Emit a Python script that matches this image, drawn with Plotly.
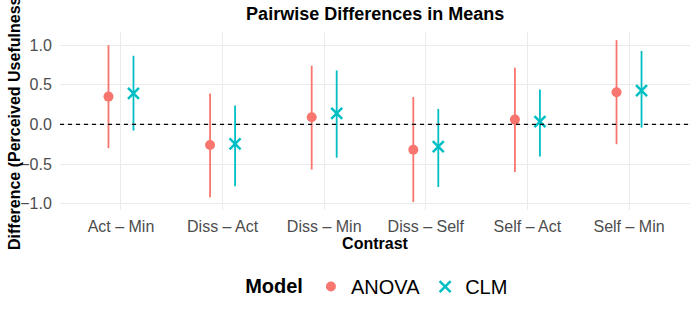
import plotly.graph_objects as go

contrasts = ["Act – Min", "Diss – Act", "Diss – Min", "Diss – Self", "Self – Act", "Self – Min"]
anova_est = [0.35, -0.26, 0.09, -0.32, 0.06, 0.405]
anova_lo = [-0.30, -0.92, -0.57, -0.98, -0.60, -0.25]
anova_hi = [1.00, 0.39, 0.74, 0.345, 0.715, 1.063]
clm_est = [0.39, -0.245, 0.14, -0.28, 0.035, 0.425]
clm_lo = [-0.078, -0.78, -0.42, -0.79, -0.405, -0.04]
clm_hi = [0.865, 0.237, 0.68, 0.195, 0.44, 0.925]
y_ticks = [-1.0, -0.5, 0.0, 0.5, 1.0]
y_tick_labels = ["−1.0", "−0.5", "0.0", "0.5", "1.0"]

dodge = 0.123
pos = list(range(1, len(contrasts) + 1))
RED = "#F8766D"
TEAL = "#00BFC4"
FONT = "Liberation Sans, Arial, sans-serif"

fig = go.Figure()

def add_series(name, est, lo, hi, color, symbol, size, shift, lw):
    xs = [p + shift for p in pos]
    fig.add_trace(go.Scatter(
        x=xs, y=est, mode="markers", name=name,
        marker=dict(color=color, symbol=symbol, size=size,
                    line=dict(color=color, width=lw)),
        error_y=dict(type="data", symmetric=False,
                     array=[h - e for h, e in zip(hi, est)],
                     arrayminus=[e - l for e, l in zip(est, lo)],
                     color=color, thickness=1.8, width=0),
    ))

add_series("ANOVA", anova_est, anova_lo, anova_hi, RED, "circle", 10, -dodge, 0)
add_series("CLM", clm_est, clm_lo, clm_hi, TEAL, "x-thin", 11, dodge, 2.5)

fig.add_hline(y=0, line=dict(color="black", width=1.3, dash="4px,4px"))

fig.add_annotation(
    text="<b>Difference (Perceived Usefulness)</b>", textangle=-90,
    xref="paper", yref="paper", x=-0.073, y=0.5, xanchor="center", yanchor="middle",
    showarrow=False, font=dict(size=16, color="black", family=FONT),
)

fig.update_layout(
    width=698, height=310,
    margin=dict(l=60, r=8, t=32, b=100, autoexpand=False),
    plot_bgcolor="white", paper_bgcolor="white",
    font=dict(family=FONT, color="#4D4D4D"),
    title=dict(text="<b>Pairwise Differences in Means</b>", x=0.5375, xanchor="center",
               y=0.955, yanchor="middle", yref="container",
               font=dict(size=18, color="black", family=FONT)),
    showlegend=True,
    legend=dict(orientation="h", x=0.505, xanchor="center", y=-0.43, yanchor="middle",
                title=dict(text="<b>Model</b>", font=dict(size=20, color="black")),
                font=dict(size=20, color="black"), itemwidth=30),
)
fig.update_xaxes(
    range=[0.4, 6.6], tickvals=pos, ticktext=contrasts, automargin=False,
    showgrid=True, gridcolor="#EBEBEB", gridwidth=1, zeroline=False,
    ticks="outside", ticklen=2, tickcolor="rgba(0,0,0,0)",
    tickfont=dict(size=16, color="#4D4D4D"),
    title=dict(text="<b>Contrast</b>", font=dict(size=16, color="black"), standoff=3),
)
fig.update_yaxes(
    range=[-1.08, 1.165], tickvals=y_ticks, ticktext=y_tick_labels, automargin=False,
    showgrid=True, gridcolor="#EBEBEB", gridwidth=1, zeroline=False,
    ticks="outside", ticklen=4, tickcolor="rgba(0,0,0,0)",
    tickfont=dict(size=16, color="#4D4D4D"),
)

fig.write_html("out.html", config={"displayModeBar": False},
               post_script="document.body.style.margin='0';")
